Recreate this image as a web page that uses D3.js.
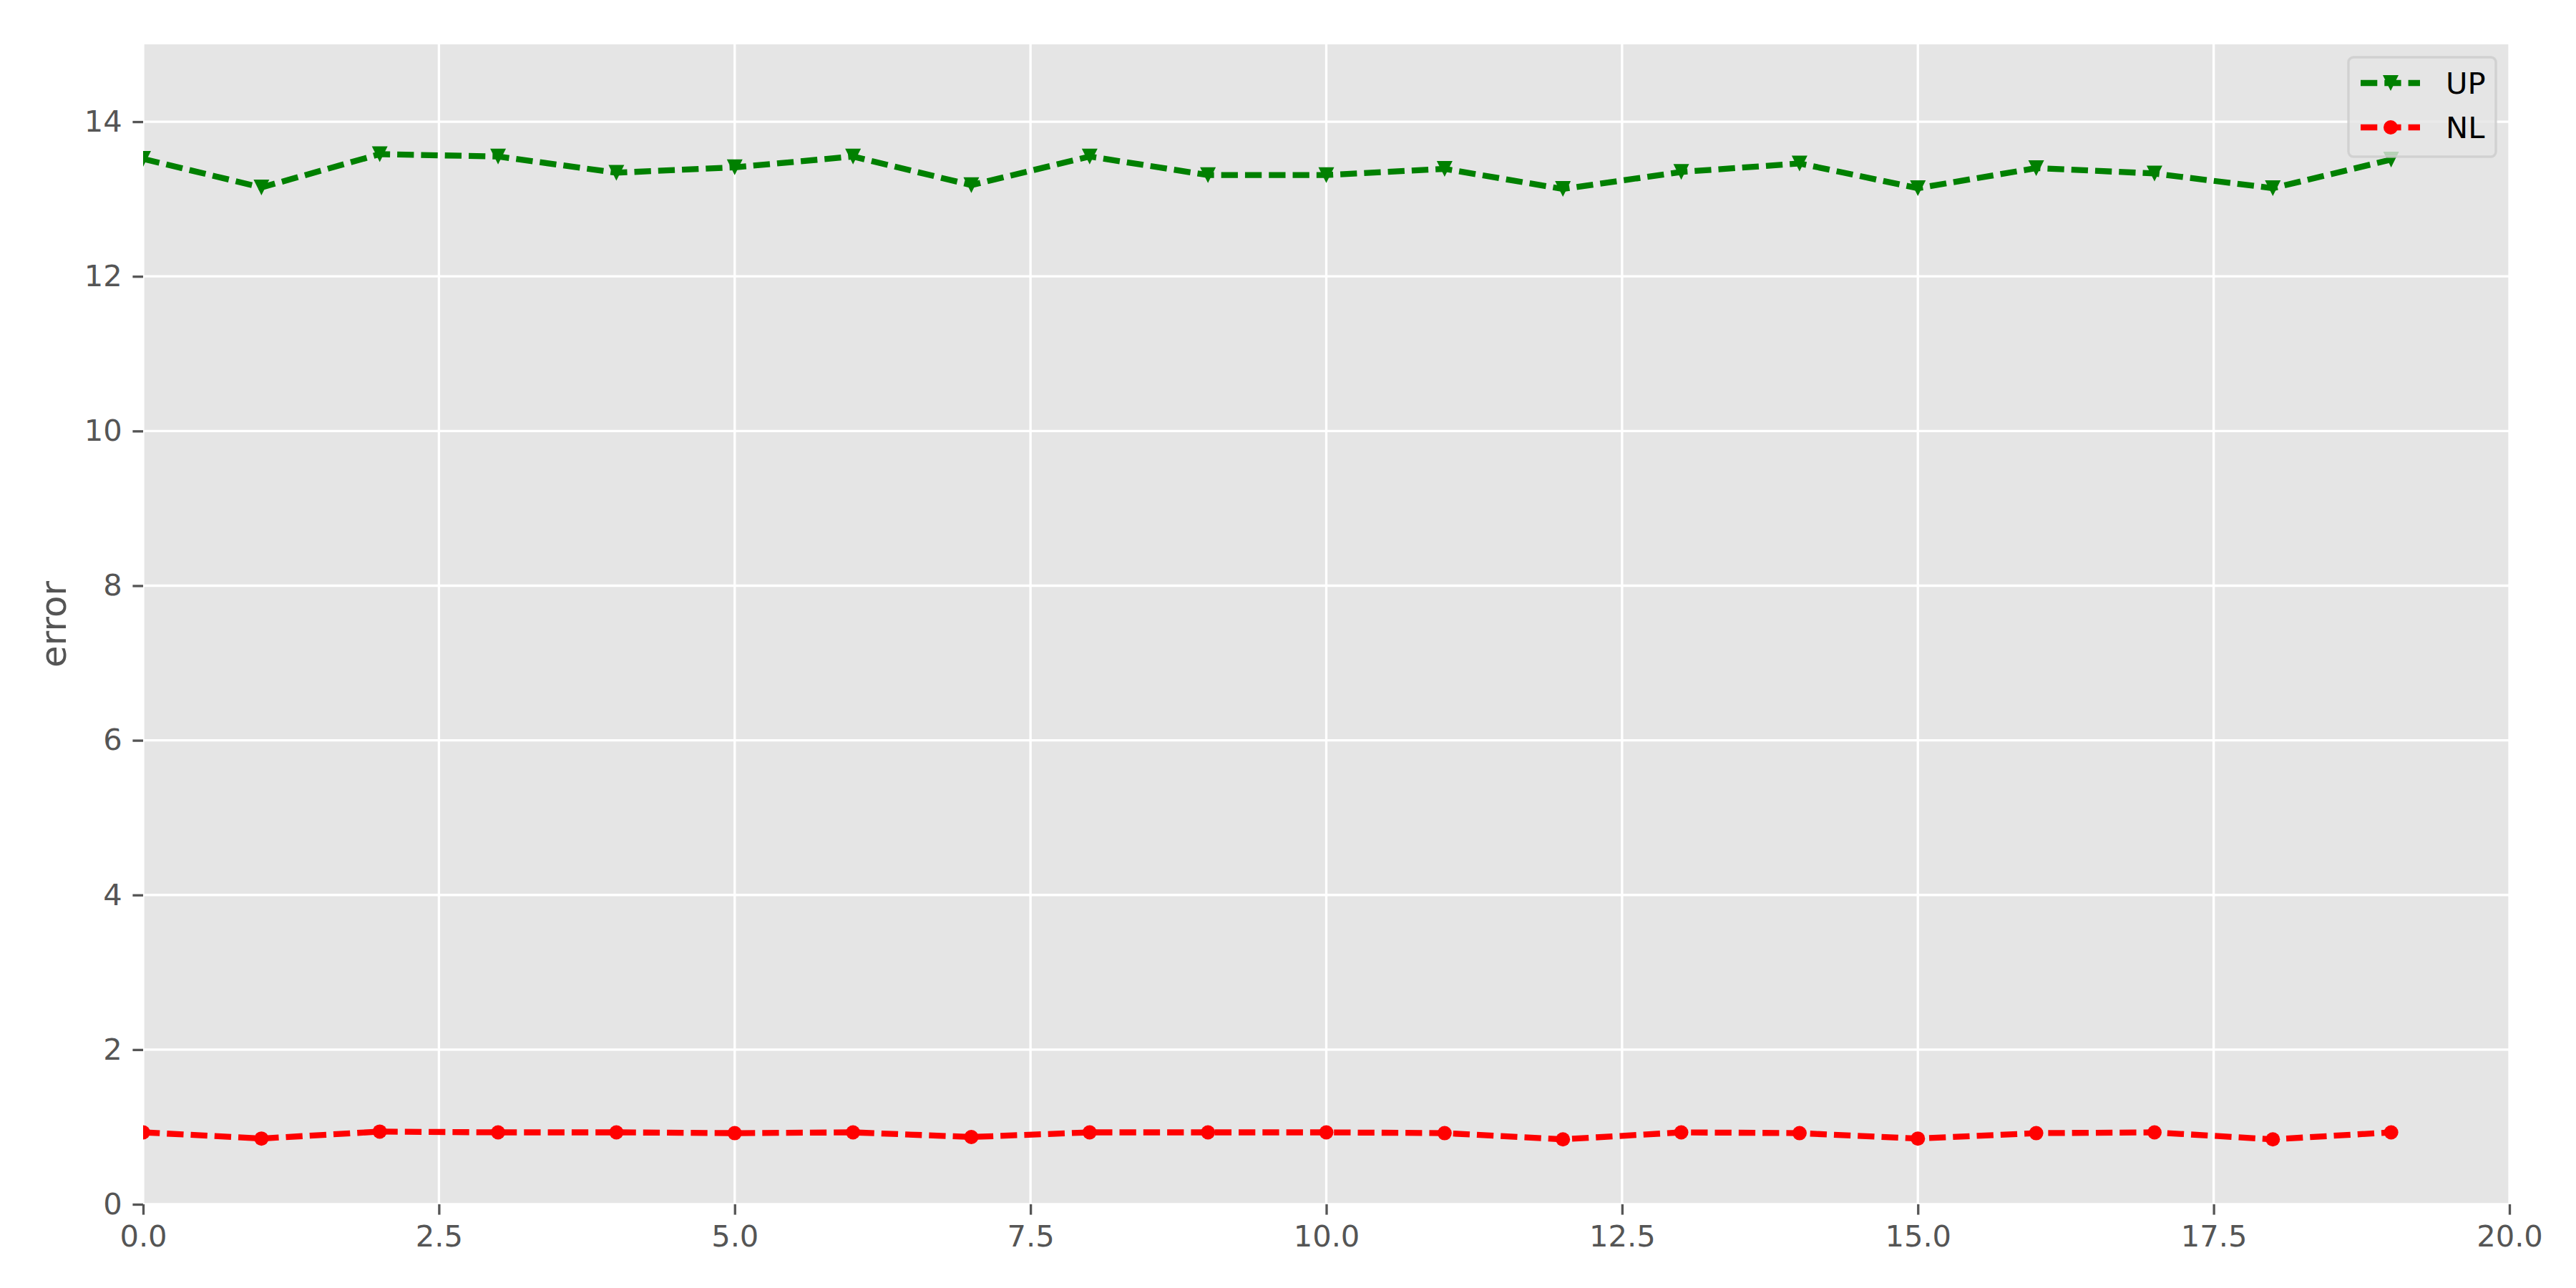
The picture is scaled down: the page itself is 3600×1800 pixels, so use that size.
<!DOCTYPE html>
<html>
<head>
<meta charset="utf-8">
<script src="https://d3js.org/d3.v7.min.js"></script>
<style>
  body { margin: 0; background: #fff; }
  text { font-family: 'DejaVu Sans', sans-serif; }
</style>
</head>
<body>
<div id="chart"></div>
<script>
// data
let epochs = [0, 1, 2, 3, 4, 5, 6, 7, 8, 9, 10, 11, 12, 13, 14, 15, 16, 17, 18, 19]

let upErr = [13.52, 13.15, 13.58, 13.55, 13.34, 13.41, 13.55, 13.18, 13.55, 13.31,
    13.31, 13.39, 13.13, 13.35, 13.46, 13.14, 13.40, 13.33, 13.14, 13.51]

let nlErr = [0.93, 0.85, 0.94, 0.93, 0.93, 0.92, 0.93, 0.87, 0.93, 0.93,
    0.93, 0.92, 0.84, 0.93, 0.92, 0.85, 0.92, 0.93, 0.84, 0.93]

let xTicks = [0, 2.5, 5, 7.5, 10, 12.5, 15, 17.5, 20]
let yTicks = [0, 2, 4, 6, 8, 10, 12, 14]

let seriesNames = ['UP', 'NL']
let seriesColors = ['#008000', '#ff0000']

// SVG dimensions
const width = 3600
const height = 1800
const margin = { top: 62, right: 93, bottom: 117, left: 200 }
const plotW = width - margin.left - margin.right
const plotH = height - margin.top - margin.bottom

const lineW = 8.3
const dash = '23.3 10'
const tickColor = '#555555'
const fontPx = 41.67

let x = d3.scaleLinear().domain([0, 20]).range([0, plotW])
let y = d3.scaleLinear().domain([0, 15]).range([plotH, 0])

const svg = d3.select('#chart').append('svg')
    .attr('width', width)
    .attr('height', height)

svg.append('rect')
    .attr('width', width)
    .attr('height', height)
    .attr('fill', '#ffffff')

const g = svg.append('g')
    .attr('transform', 'translate(' + margin.left + ',' + margin.top + ')')

g.append('rect')
    .attr('width', plotW)
    .attr('height', plotH)
    .attr('fill', '#e5e5e5')

g.append('clipPath')
    .attr('id', 'plot-clip')
    .append('rect')
    .attr('width', plotW)
    .attr('height', plotH)

// grid
g.append('g')
    .selectAll('line')
    .data(xTicks)
    .enter().append('line')
    .attr('x1', d => x(d))
    .attr('x2', d => x(d))
    .attr('y1', 0)
    .attr('y2', plotH)
    .attr('stroke', '#ffffff')
    .attr('stroke-width', 3.33)

g.append('g')
    .selectAll('line')
    .data(yTicks)
    .enter().append('line')
    .attr('x1', 0)
    .attr('x2', plotW)
    .attr('y1', d => y(d))
    .attr('y2', d => y(d))
    .attr('stroke', '#ffffff')
    .attr('stroke-width', 3.33)

// axes
let xAxis = d3.axisBottom(x)
    .tickValues(xTicks)
    .tickFormat(d3.format('.1f'))
    .tickSize(14.6)
    .tickPadding(14.6)

let yAxis = d3.axisLeft(y)
    .tickValues(yTicks)
    .tickFormat(d3.format('d'))
    .tickSize(14.6)
    .tickPadding(14.6)

let styleAxis = (sel) => {
    sel.select('.domain').remove()
    sel.selectAll('.tick line')
        .attr('stroke', tickColor)
        .attr('stroke-width', 3.33)
    sel.selectAll('.tick text')
        .attr('fill', tickColor)
        .style('font-size', fontPx + 'px')
        .style('font-family', 'DejaVu Sans')
}

g.append('g')
    .attr('transform', 'translate(0,' + plotH + ')')
    .call(xAxis)
    .call(styleAxis)

g.append('g')
    .call(yAxis)
    .call(styleAxis)

g.append('text')
    .text('error')
    .attr('transform', 'translate(' + (92 - margin.left) + ',' + (plotH / 2) + ') rotate(-90)')
    .attr('text-anchor', 'middle')
    .attr('fill', tickColor)
    .style('font-size', '50px')

// series
let triangle = (cx, cy, s) => {
    let h = s / 2
    return 'M' + (cx - h) + ',' + (cy - h) + 'L' + (cx + h) + ',' + (cy - h) + 'L' + cx + ',' + (cy + h) + 'Z'
}

let line = d3.line()
    .x((d, i) => x(epochs[i]))
    .y(d => y(d))

const series = g.append('g').attr('clip-path', 'url(#plot-clip)')

let allSeries = [upErr, nlErr]

allSeries.forEach((vals, k) => {
    series.append('path')
        .datum(vals)
        .attr('d', line)
        .attr('fill', 'none')
        .attr('stroke', seriesColors[k])
        .attr('stroke-width', lineW)
        .attr('stroke-dasharray', dash)
})

series.append('g')
    .selectAll('path')
    .data(upErr)
    .enter().append('path')
    .attr('d', (d, i) => triangle(x(epochs[i]), y(d), 22))
    .attr('fill', seriesColors[0])

series.append('g')
    .selectAll('circle')
    .data(nlErr)
    .enter().append('circle')
    .attr('cx', (d, i) => x(epochs[i]))
    .attr('cy', d => y(d))
    .attr('r', 10)
    .attr('fill', seriesColors[1])

// legend
const legend = svg.append('g')
    .attr('transform', 'translate(3282,80)')

legend.append('rect')
    .attr('width', 206)
    .attr('height', 139)
    .attr('rx', 7)
    .attr('ry', 7)
    .attr('fill', '#e5e5e5')
    .attr('fill-opacity', 0.8)
    .attr('stroke', '#cccccc')
    .attr('stroke-opacity', 0.8)
    .attr('stroke-width', 3.33)

let rows = legend.selectAll('.legend-row')
    .data(seriesNames)
    .enter().append('g')
    .attr('class', 'legend-row')
    .attr('transform', (d, i) => 'translate(17,' + (36 + i * 62) + ')')

rows.append('line')
    .attr('x1', 0)
    .attr('x2', 83)
    .attr('stroke', (d, i) => seriesColors[i])
    .attr('stroke-width', lineW)
    .attr('stroke-dasharray', dash)

rows.filter((d, i) => i === 0).append('path')
    .attr('d', triangle(42, 0, 22))
    .attr('fill', seriesColors[0])

rows.filter((d, i) => i === 1).append('circle')
    .attr('cx', 42)
    .attr('cy', 0)
    .attr('r', 10)
    .attr('fill', seriesColors[1])

rows.append('text')
    .text(d => d)
    .attr('x', 119)
    .attr('y', 15)
    .attr('fill', '#000000')
    .style('font-size', fontPx + 'px')
</script>
</body>
</html>
